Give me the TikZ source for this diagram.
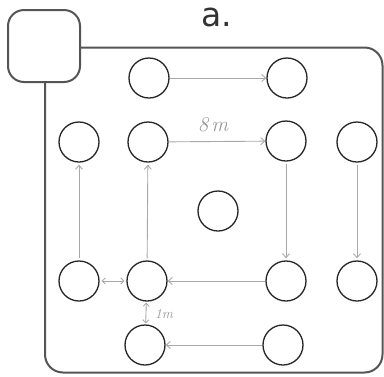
\documentclass[tikz,border=0pt]{standalone}
\usepackage{fontspec}
\newfontfamily\titlefont{DejaVu Sans}
\usetikzlibrary{arrows.meta}
\definecolor{framegray}{HTML}{555555}
\definecolor{arrowgray}{HTML}{A8A8A8}
\definecolor{labelgray}{HTML}{999999}
\begin{document}
\begin{tikzpicture}[x=1pt,y=-1pt,
  post/.style={circle,draw=black!85,line width=1.3pt,minimum size=40pt,inner sep=0pt},
  flow/.style={draw=arrowgray,line width=0.9pt,-{Straight Barb[length=4pt,width=7pt]}},
  twoway/.style={draw=arrowgray,line width=0.9pt,{Straight Barb[length=3pt,width=6pt]}-{Straight Barb[length=3pt,width=6pt]}},
  dist/.style={text=labelgray,inner sep=1pt}]
\useasboundingbox (0,0) rectangle (384,376);
% frame
\draw[framegray,line width=2pt,rounded corners=18pt] (45,70) -- (45,372.5) -- (382.5,372.5) -- (382.5,47.5) -- (70,47.5);
\node[draw=framegray,fill=white,line width=2pt,rounded corners=16pt,minimum size=72pt,inner sep=0pt] (corner) at (44,46) {};
\node[text=black!80,font={\titlefont\fontsize{33}{33}\selectfont}] (title) at (217,17) {a.};
% posts
\node[post] (r1a) at (149,78) {};
\node[post] (r1b) at (287,78) {};
\node[post] (r2a) at (79,142) {};
\node[post] (r2b) at (148,142) {};
\node[post] (r2c) at (286,141) {};
\node[post] (r2d) at (357,142) {};
\node[post] (mid) at (218,211) {};
\node[post] (r3a) at (79,281) {};
\node[post] (r3b) at (147,281) {};
\node[post] (r3c) at (286,281) {};
\node[post] (r3d) at (357,281) {};
\node[post] (r4a) at (145,345) {};
\node[post] (r4b) at (283,345) {};
% arrows
\draw[flow] (r1a) -- (r1b);
\draw[flow] (r2b) -- (r2c);
\node[dist,font=\itshape\fontsize{21}{21}\selectfont] (eight) at (213,125) {8\hspace{3pt}m};
\draw[flow,shorten <=2pt,shorten >=2pt] (r3a) -- (r2a);
\draw[flow,shorten <=2pt,shorten >=2pt] (r3b) -- (r2b);
\draw[flow,shorten <=2pt,shorten >=2pt] (r2c) -- (r3c);
\draw[flow,shorten <=2pt,shorten >=2pt] (r2d) -- (r3d);
\draw[twoway,shorten <=2pt,shorten >=2pt] (r3a) -- (r3b);
\draw[flow] (r3c) -- (r3b);
\draw[twoway,shorten <=1pt,shorten >=1pt] (r3b) -- (r4a);
\node[dist,font=\itshape\fontsize{14}{14}\selectfont] (one) at (164,314) {1m};
\draw[flow] (r4b) -- (r4a);
\end{tikzpicture}
\end{document}
